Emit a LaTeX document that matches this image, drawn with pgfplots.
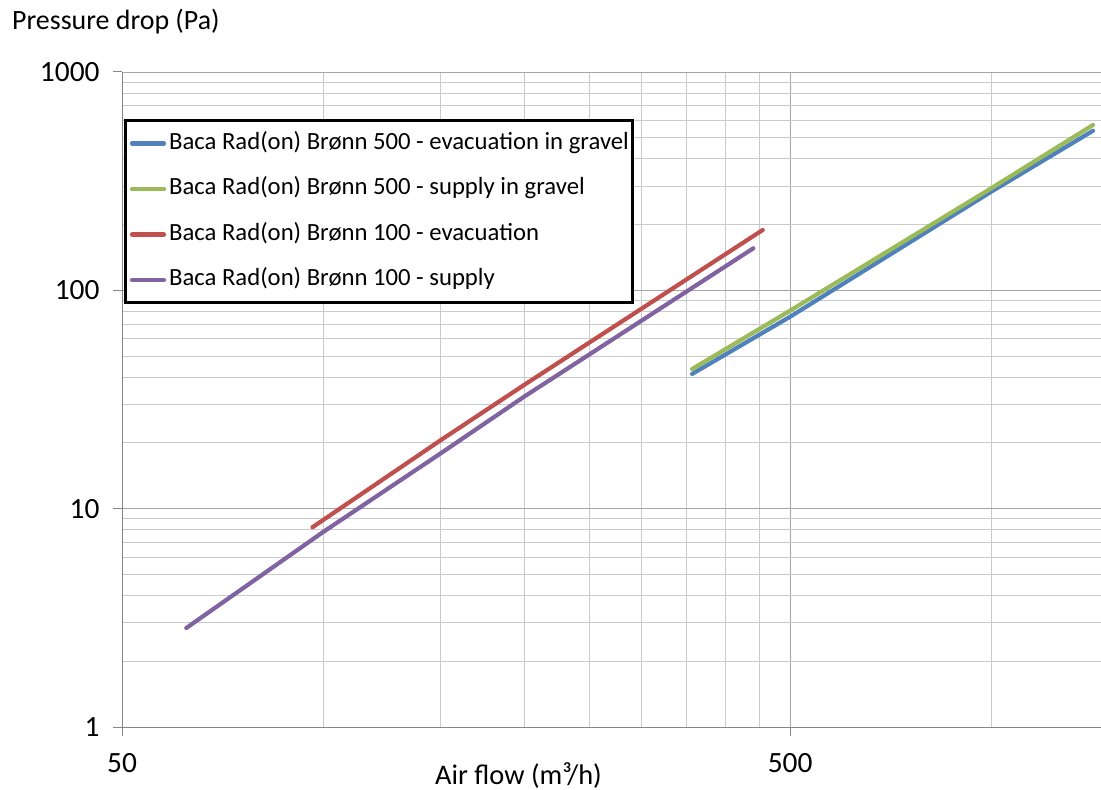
\documentclass[border=0pt]{standalone}
\usepackage{pgfplots}
\pgfplotsset{compat=1.18}
\usepackage{fontspec}
\setmainfont{Carlito}

\definecolor{sblue}{HTML}{4F81BD}
\definecolor{sgreen}{HTML}{9BBB59}
\definecolor{sred}{HTML}{C0504D}
\definecolor{spurple}{HTML}{8064A2}
\definecolor{axgray}{HTML}{868686}
\definecolor{majgray}{HTML}{A6A6A6}
\definecolor{mingray}{HTML}{CACACA}

\begin{document}
\begin{tikzpicture}
\path[use as bounding box] (-122bp,-63bp) rectangle (979bp,727bp);
\begin{axis}[
    scale only axis,
    width=979bp, height=655bp,
    xmode=log, ymode=log,
    xmin=50, xmax=1460,
    ymin=1, ymax=1000,
    axis x line=bottom, axis y line=left,
    axis line style={-, draw=axgray, line width=1bp},
    xtick={50,500}, xticklabels={50,500},
    ytick={1,10,100,1000}, yticklabels={1,10,100,1000},
    minor xtick={100,150,200,250,300,350,400,450,1000},
    minor ytick={2,3,4,5,6,7,8,9,20,30,40,50,60,70,80,90,200,300,400,500,600,700,800,900},
    tick align=outside,
    major tick length=9bp, minor tick length=0bp,
    tick style={draw=axgray, line width=1bp},
    grid=both,
    major grid style={draw=majgray, line width=0.9bp},
    minor grid style={draw=mingray, line width=0.9bp},
    ticklabel style={font=\fontsize{29.5}{34}\selectfont, text=black},
    xticklabel style={yshift=-13.5bp},
    yticklabel style={xshift=-10bp},
    xlabel={Air flow (m³/h)},
    xlabel style={at={(axis description cs:0.405,-0.0885)}, anchor=base, inner sep=0pt, font=\fontsize{28.5}{33}\selectfont},
    ylabel={Pressure drop (Pa)},
    ylabel style={rotate=-90, at={(axis description cs:-0.1124,1.0656)}, anchor=base west, inner sep=0pt, font=\fontsize{28}{33}\selectfont},
    legend cell align=left,
    legend image code/.code={\draw[#1] (0bp,0bp) -- (32bp,0bp);},
    legend style={at={(0,1)}, anchor=north west, xshift=2.4bp, yshift=-47bp,
        draw=black, line width=3bp, fill=white,
        font=\fontsize{24.8}{29}\selectfont,
        inner xsep=4bp, inner ysep=12bp, row sep=23.5bp,
        nodes={inner sep=0pt, text height=17bp, text depth=5bp},
        /tikz/every odd column/.append style={column sep=3bp}},
    every axis plot/.append style={line width=4.2bp, line cap=round},
]
\addplot[sblue] coordinates {(356.7,41.4) (500,75.7) (1000,283) (1420,538)};
\addlegendentry{Baca Rad(on) Brønn 500 - evacuation in gravel}
\addplot[sgreen] coordinates {(356.7,43.6) (500,80.7) (1000,293.4) (1420,571.8)};
\addlegendentry{Baca Rad(on) Brønn 500 - supply in gravel}
\addplot[sred] coordinates {(96.4,8.22) (150,20.6) (200,36.9) (455,189)};
\addlegendentry{Baca Rad(on) Brønn 100 - evacuation}
\addplot[spurple] coordinates {(62.4,2.84) (100,7.82) (150,17.93) (200,32.6) (440.5,155.8)};
\addlegendentry{Baca Rad(on) Brønn 100 - supply}
\end{axis}
\end{tikzpicture}
\end{document}
